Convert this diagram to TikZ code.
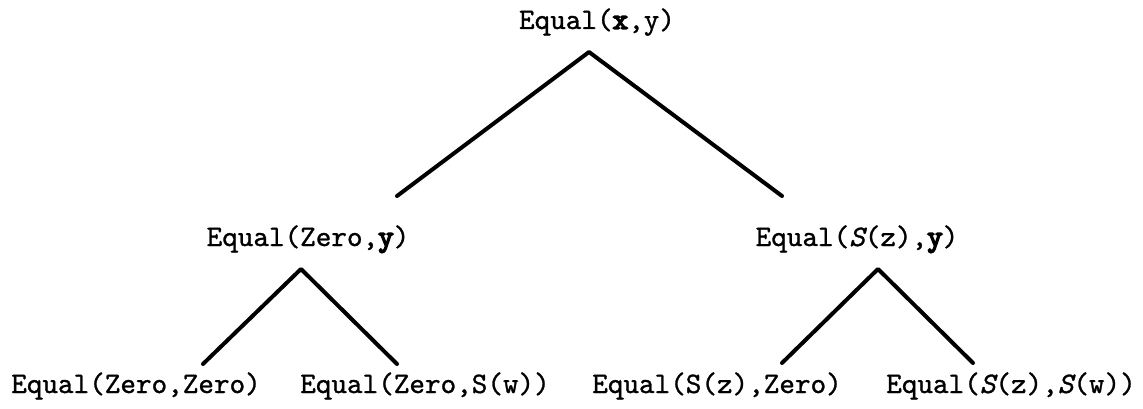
\documentclass[tikz,border=0pt]{standalone}
\usepackage{fontspec}
\newfontfamily\ttreg{lmmono10-regular.otf}[FakeBold=1]
\newfontfamily\ttbld{lmmono10-regular.otf}[FakeBold=5]
\newfontfamily\ttita{lmmono10-italic.otf}[FakeBold=1]
\newcommand\bchar[1]{{\ttbld #1}}
\newcommand\ichar[1]{{\ttita #1}}
\begin{document}
\begin{tikzpicture}[x=1pt,y=-1pt,
  lbl/.style={anchor=base,inner sep=0pt,font=\fontsize{29.7}{34}\selectfont\ttreg},
  branch/.style={line width=4pt,line cap=round,line join=round}]
\useasboundingbox[fill=white] (0,0) rectangle (1143,409);
% labels
\node[lbl] (root) at (597,29) {Equal(\bchar{x},y)};
\node[lbl] (zy) at (308,246) {Equal(Zero,\bchar{y})};
\node[lbl] (sy) at (857,246) {Equal(\ichar{S}(z),\bchar{y})};
\node[lbl] (zz) at (136,393) {Equal(Zero,Zero)};
\node[lbl] (zs) at (425,393) {Equal(Zero,S(w))};
\node[lbl] (sz) at (717,393) {Equal(S(z),Zero)};
\node[lbl] (ss) at (1011,393) {Equal(\ichar{S}(z),\ichar{S}(w))};
% branch points
\coordinate (rA) at (589,52);
\coordinate (rL) at (397,196);
\coordinate (rR) at (782,196);
\coordinate (lA) at (301,269);
\coordinate (lL) at (203,364);
\coordinate (lR) at (397,364);
\coordinate (gA) at (878,269);
\coordinate (gL) at (782,363);
\coordinate (gR) at (973,363);
\draw[branch] (rL) -- (rA) -- (rR);
\draw[branch] (lL) -- (lA) -- (lR);
\draw[branch] (gL) -- (gA) -- (gR);
\end{tikzpicture}
\end{document}
